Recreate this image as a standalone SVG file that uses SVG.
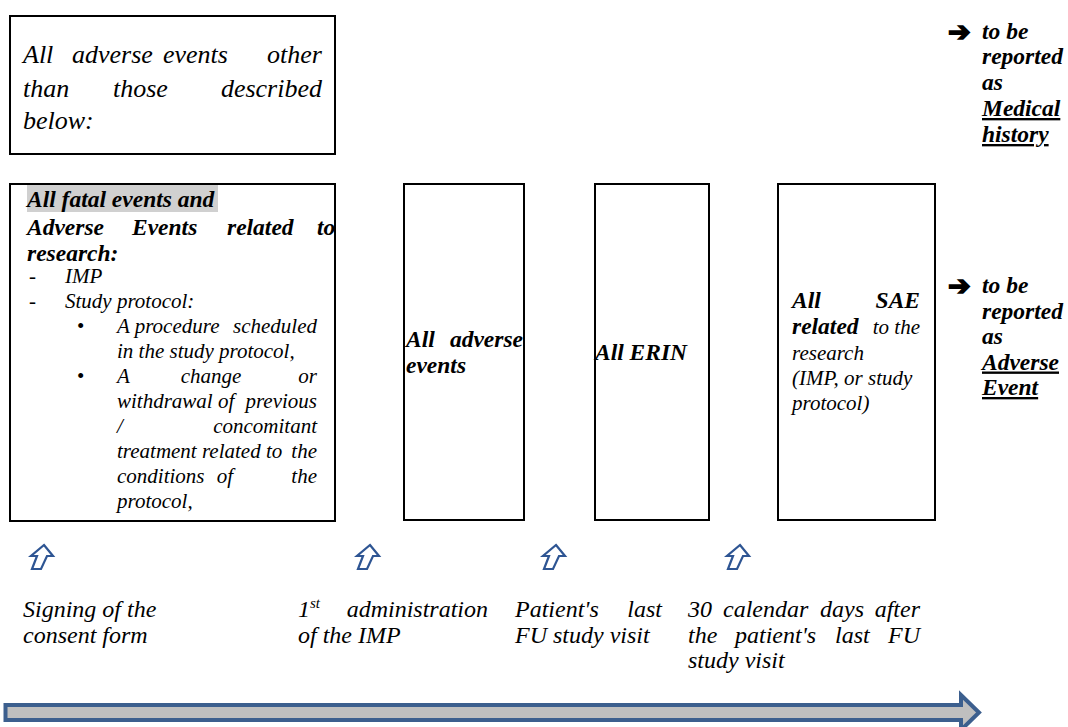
<svg xmlns="http://www.w3.org/2000/svg" width="1068" height="727" viewBox="0 0 1068 727">
<style>
.box{fill:#fff;stroke:#000;stroke-width:2}
.t{font-family:"Liberation Serif","Times New Roman",serif;font-style:italic;fill:#000}
.big{font-size:26px}
.sm{font-size:21px}
.bd{font-size:23.5px;font-weight:bold}
.rt{font-size:23.5px;font-weight:bold}
.tl{font-size:24px}
.up{fill:#fff;stroke:#2E5593;stroke-width:2.2;stroke-linejoin:miter}
.sym{font-family:"DejaVu Sans",sans-serif;font-style:normal;font-weight:bold;font-size:27px;fill:#000;stroke:#000;stroke-width:1.6;stroke-linejoin:miter}
.reg{font-style:normal}
.u{text-decoration:underline}
</style>
<defs>
<polygon id="uparrow" class="up" points="44,545 53,556 47,556 41,569 32,569 37,556 31,556"/>
</defs>

<g id="node-history">
<rect class="box" x="10" y="16" width="325" height="138"/>
<text class="t big" x="23" y="63">All</text>
<text class="t big" x="72" y="63">adverse</text>
<text class="t big" x="163" y="63">events</text>
<text class="t big" x="322" y="63" text-anchor="end">other</text>
<text class="t big" x="23" y="97">than</text>
<text class="t big" x="113" y="97">those</text>
<text class="t big" x="322" y="97" text-anchor="end">described</text>
<text class="t big" x="23" y="129">below:</text>
</g>

<g id="node-related">
<rect class="box" x="10" y="184" width="325" height="337"/>
<rect x="27" y="185" width="191" height="27" fill="#D0D0D0"/>
<text class="t bd" x="27" y="207">All fatal events and</text>
<text class="t bd" x="27" y="235">Adverse</text>
<text class="t bd" x="132" y="235">Events</text>
<text class="t bd" x="227" y="235">related</text>
<text class="t bd" x="317" y="235">to</text>
<text class="t bd" x="27" y="261">research:</text>
<text class="t sm reg" x="29" y="283">-</text>
<text class="t sm" x="65" y="283">IMP</text>
<text class="t sm reg" x="29" y="308">-</text>
<text class="t sm" x="65" y="308">Study protocol:</text>
<text class="t sm reg" x="77" y="333">•</text>
<text class="t sm" x="117" y="333">A procedure</text>
<text class="t sm" x="317" y="333" text-anchor="end">scheduled</text>
<text class="t sm" x="117" y="358">in the study protocol,</text>
<text class="t sm reg" x="77" y="383">•</text>
<text class="t sm" x="117" y="383">A</text>
<text class="t sm" x="211" y="383" text-anchor="middle">change</text>
<text class="t sm" x="317" y="383" text-anchor="end">or</text>
<text class="t sm" x="117" y="408">withdrawal of</text>
<text class="t sm" x="317" y="408" text-anchor="end">previous</text>
<text class="t sm" x="117" y="433">/</text>
<text class="t sm" x="317" y="433" text-anchor="end">concomitant</text>
<text class="t sm" x="117" y="458">treatment related to</text>
<text class="t sm" x="317" y="458" text-anchor="end">the</text>
<text class="t sm" x="117" y="483">conditions</text>
<text class="t sm" x="225" y="483" text-anchor="middle">of</text>
<text class="t sm" x="317" y="483" text-anchor="end">the</text>
<text class="t sm" x="117" y="508">protocol,</text>
</g>

<g id="node-all-ae">
<rect class="box" x="404" y="184" width="120" height="336"/>
<text class="t bd" x="406" y="347">All</text>
<text class="t bd" x="523" y="347" text-anchor="end">adverse</text>
<text class="t bd" x="406" y="373">events</text>
</g>

<g id="node-erin">
<rect class="box" x="595" y="184" width="114" height="336"/>
<text class="t bd" x="595" y="360">All ERIN</text>
</g>

<g id="node-sae">
<rect class="box" x="778" y="184" width="157" height="336"/>
<text class="t bd" x="792" y="308">All</text>
<text class="t bd" x="920" y="308" text-anchor="end">SAE</text>
<text class="t bd" x="792" y="334">related</text>
<text class="t sm" x="920" y="334" text-anchor="end">to the</text>
<text class="t sm" x="792" y="360">research</text>
<text class="t sm" x="792" y="385">(IMP, or study</text>
<text class="t sm" x="792" y="410">protocol)</text>
</g>

<g id="label-medical-history">
<text class="sym" x="948" y="41">➔</text>
<text class="t rt" x="982" y="39">to be</text>
<text class="t rt" x="982" y="64">reported</text>
<text class="t rt" x="982" y="90">as</text>
<text class="t rt u" x="982" y="116">Medical</text>
<text class="t rt u" x="982" y="142">history</text>
</g>

<g id="label-adverse-event">
<text class="sym" x="948" y="295">➔</text>
<text class="t rt" x="982" y="293">to be</text>
<text class="t rt" x="982" y="318.5">reported</text>
<text class="t rt" x="982" y="344">as</text>
<text class="t rt u" x="982" y="369.5">Adverse</text>
<text class="t rt u" x="982" y="395">Event</text>
</g>

<g id="connectors">
<use href="#uparrow"/>
<use href="#uparrow" transform="translate(326,0)"/>
<use href="#uparrow" transform="translate(512,0)"/>
<use href="#uparrow" transform="translate(696,0)"/>
<path id="timeline" d="M5.5,705 H961 V695 L979,712.5 L961,730 V720 H5.5 Z" fill="#BFBFBF" stroke="#3C5F8E" stroke-width="4" stroke-linejoin="miter"/>
</g>

<g id="label-consent">
<text class="t tl" x="23" y="617">Signing of the</text>
<text class="t tl" x="23" y="643">consent form</text>
</g>
<g id="label-first-admin">
<text class="t tl" x="298" y="617">1</text>
<text class="t tl" x="310" y="608" style="font-size:15px">st</text>
<text class="t tl" x="488" y="617" text-anchor="end">administration</text>
<text class="t tl" x="298" y="643">of the IMP</text>
</g>
<g id="label-last-visit">
<text class="t tl" x="515" y="617">Patient's</text>
<text class="t tl" x="662" y="617" text-anchor="end">last</text>
<text class="t tl" x="515" y="643">FU study visit</text>
</g>
<g id="label-30-days">
<text class="t tl" x="688" y="617">30</text>
<text class="t tl" x="723" y="617">calendar</text>
<text class="t tl" x="820" y="617">days</text>
<text class="t tl" x="920" y="617" text-anchor="end">after</text>
<text class="t tl" x="688" y="643">the</text>
<text class="t tl" x="735" y="643">patient's</text>
<text class="t tl" x="835" y="643">last</text>
<text class="t tl" x="920" y="643" text-anchor="end">FU</text>
<text class="t tl" x="688" y="668">study visit</text>
</g>
</svg>
